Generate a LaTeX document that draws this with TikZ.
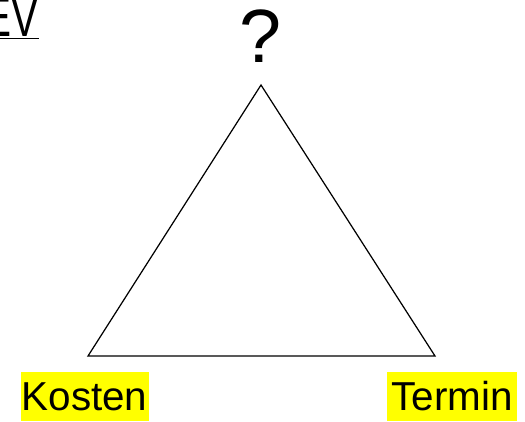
\documentclass[tikz,border=0pt]{standalone}
\usepackage{fontspec}
\setmainfont{Liberation Sans}
\newfontfamily\narrowfont[FakeStretch=0.72]{Liberation Sans}
\usetikzlibrary{positioning}
\definecolor{marker}{RGB}{255,255,0}

\begin{document}
\begin{tikzpicture}[
    side/.style={draw=black, line width=0.7pt, line join=miter},
    hilite/.style={rectangle, fill=marker, inner sep=0pt, minimum width=2.56cm, minimum height=0.98cm, font=\fontsize{23}{27}\selectfont},
    ask/.style={inner sep=0pt, font=\fontsize{43}{50}\selectfont},
    heading/.style={inner sep=0pt, anchor=base east, font=\narrowfont\fontsize{32}{38}\selectfont},
]
\useasboundingbox (0,0) rectangle (10.5,8.42);

% corners of the triangle
\coordinate (top) at (5.22,6.72);
\coordinate (left) at (1.76,1.30);
\coordinate (right) at (8.70,1.30);

\draw[side] (top) -- (left) -- (right) -- cycle;

\node[ask, above=0.44cm of top] (open) {?};
\node[hilite] (kosten) at (1.69,0.49) {Kosten};
\node[hilite, minimum width=2.6cm] (termin) at (9.04,0.49) {Termin};

\node[heading] (ev) at (0.78,7.70) {\underline{EV}};

\end{tikzpicture}
\end{document}
